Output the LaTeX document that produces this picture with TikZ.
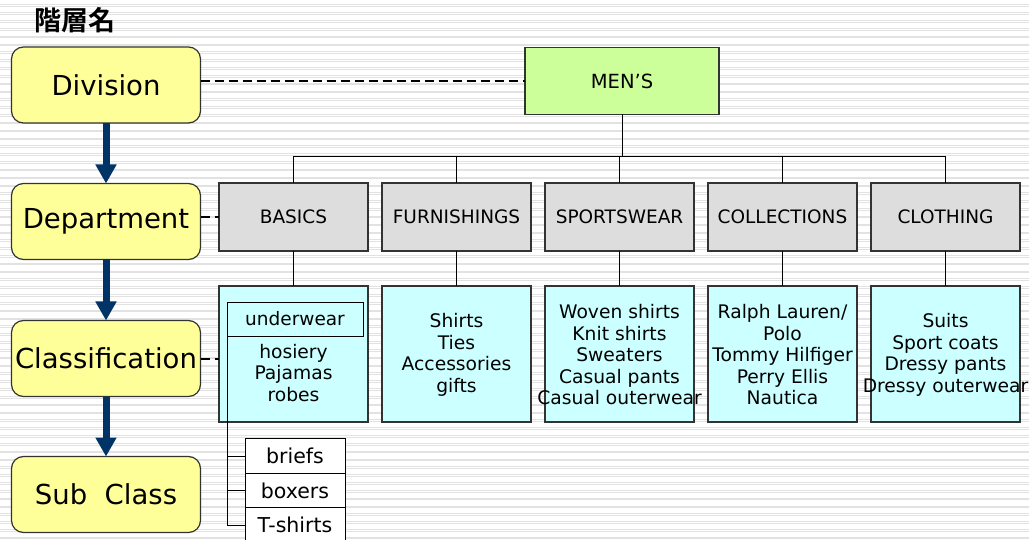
\documentclass[tikz,border=0pt]{standalone}
\usepackage{fontspec}
\setmainfont{DejaVu Sans}
\newfontfamily\cjk{Noto Sans CJK JP Bold}
\usetikzlibrary{arrows.meta}
\definecolor{yel}{HTML}{FFFF99}
\definecolor{grn}{HTML}{CCFF99}
\definecolor{gry}{HTML}{DDDDDD}
\definecolor{cyn}{HTML}{CCFFFF}
\definecolor{navy}{HTML}{003366}
\definecolor{edge}{HTML}{333333}
\definecolor{stripe}{HTML}{E2E2E2}
\begin{document}
\begin{tikzpicture}[x=1pt,y=-1pt,
  levelbox/.style={draw=edge,line width=1.2pt,fill=yel,rounded corners=12pt,minimum width=189pt,minimum height=76pt,inner sep=0pt,outer sep=0pt,font=\fontsize{27.5}{30}\selectfont},
  topbox/.style={draw=edge,line width=1.1pt,fill=grn,minimum width=194pt,minimum height=67pt,inner sep=0pt,outer sep=0pt,font=\fontsize{19.5}{22}\selectfont},
  deptbox/.style={draw=edge,line width=1.1pt,fill=gry,minimum width=149pt,minimum height=68pt,inner sep=0pt,outer sep=0pt,font=\fontsize{18.5}{21}\selectfont},
  classbox/.style={draw=edge,line width=1.1pt,fill=cyn,minimum width=149pt,minimum height=136pt,inner sep=0pt,outer sep=0pt},
  itemtext/.style={align=center,inner sep=0pt,font=\fontsize{18.7}{21.5}\selectfont},
  subbox/.style={draw=black,line width=1pt,fill=white,minimum width=100pt,minimum height=34.5pt,inner sep=0pt,outer sep=0pt,font=\fontsize{20.5}{23}\selectfont},
  flow/.style={draw=navy,line width=7pt,-{Triangle[width=20pt,length=19pt]}},
  link/.style={draw=black,line width=0.9pt},
  dashlink/.style={draw=black,line width=2pt,dash pattern=on 9pt off 5pt}
]
\useasboundingbox (0,0) rectangle (1029,540);
\fill[white] (0,0) rectangle (1029,540);
\foreach \k in {0,...,69}{
  \draw[stripe,line width=0.9pt] (0,{5.7+7.83*\k-0.8}) -- (1029,{5.7+7.83*\k-0.8});
  \draw[stripe,line width=0.9pt] (0,{5.7+7.83*\k+0.8}) -- (1029,{5.7+7.83*\k+0.8});
}
\node[font=\cjk\fontsize{27}{29}\selectfont,inner sep=0pt] (title) at (75,20) {階層名};

% level boxes
\node[levelbox] (division) at (106,85) {\raisebox{-2pt}{Division}};
\node[levelbox] (department) at (106,221.5) {\raisebox{-1.5pt}{Department}};
\node[levelbox] (classification) at (106,358.5) {\raisebox{-1.5pt}{Classification}};
\node[levelbox] (subclass) at (106,494.5) {\raisebox{-1.5pt}{Sub\ \ Class}};

\draw[flow] (division.south) -- (department.north);
\draw[flow] (department.south) -- (classification.north);
\draw[flow] (classification.south) -- (subclass.north);

% top
\node[topbox] (mens) at (622,81) {MEN’S};

% departments
\node[deptbox] (d1) at (293.5,217) {BASICS};
\node[deptbox] (d2) at (456.5,217) {FURNISHINGS};
\node[deptbox] (d3) at (619.5,217) {SPORTSWEAR};
\node[deptbox] (d4) at (782.5,217) {COLLECTIONS};
\node[deptbox] (d5) at (945.5,217) {CLOTHING};

% classifications
\node[classbox] (c1) at (293.5,354) {};
\node[classbox] (c2) at (456.5,354) {};
\node[classbox] (c3) at (619.5,354) {};
\node[classbox] (c4) at (782.5,354) {};
\node[classbox] (c5) at (945.5,354) {};

\node[draw=black,line width=1pt,minimum width=136pt,minimum height=34pt,inner sep=0pt,outer sep=0pt,font=\fontsize{18.5}{21}\selectfont] (uw) at (295,320) {\raisebox{4pt}{underwear}};
\node[itemtext] (t1) at (293.5,373) {hosiery\\Pajamas\\robes};
\node[itemtext] (t2) at (456.5,355) {Shirts\\Ties\\Accessories\\gifts};
\node[itemtext] (t3) at (619.5,355) {Woven shirts\\Knit shirts\\Sweaters\\Casual pants\\Casual outerwear};
\node[itemtext] (t4) at (782.5,355) {Ralph Lauren/\\Polo\\Tommy Hilfiger\\Perry Ellis\\Nautica};
\node[itemtext] (t5) at (945.5,355) {Suits\\Sport coats\\Dressy pants\\Dressy outerwear};

% sub classes
\node[subbox] (s1) at (295,456) {briefs};
\node[subbox] (s2) at (295,490.5) {boxers};
\node[subbox] (s3) at (295,525) {T-shirts};

% connectors
\coordinate (bus) at (620,156);
\draw[link] (mens.south) -- (mens.south |- bus);
\draw[link] (d1.north |- bus) -- (d5.north |- bus);
\foreach \d in {d1,d2,d3,d4,d5}{
  \draw[link] (\d.north |- bus) -- (\d.north);
}
\draw[link] (d1.south) -- (c1.north);
\draw[link] (d2.south) -- (c2.north);
\draw[link] (d3.south) -- (c3.north);
\draw[link] (d4.south) -- (c4.north);
\draw[link] (d5.south) -- (c5.north);

\draw[link] (uw.west) -- (uw.west |- s3.west) -- (s3.west);
\draw[link] (uw.west |- s1.west) -- (s1.west);
\draw[link] (uw.west |- s2.west) -- (s2.west);

% dashed level links
\draw[dashlink] (division.east |- mens.west) -- (mens.west);
\draw[dashlink] (department.east |- d1.west) -- (d1.west);
\draw[dashlink] (classification.east) -- (c1.west |- classification.east);
\end{tikzpicture}
\end{document}
